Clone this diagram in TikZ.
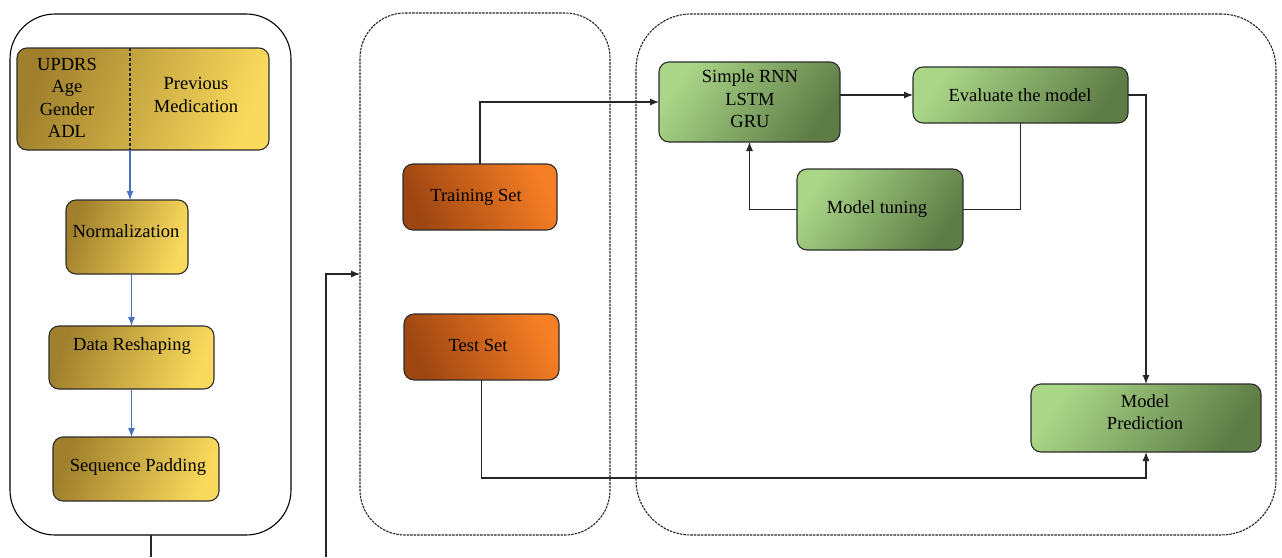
\documentclass[tikz,border=0pt]{standalone}
\usepackage{fontspec}
\setmainfont{Liberation Serif}
\newfontfamily\tnr{Liberation Serif}
\usetikzlibrary{arrows.meta}
\definecolor{goldD}{RGB}{160,128,44}
\definecolor{goldL}{RGB}{250,218,92}
\definecolor{orD}{RGB}{158,70,18}
\definecolor{orL}{RGB}{246,126,36}
\definecolor{grL}{RGB}{170,214,136}
\definecolor{grD}{RGB}{94,124,70}
\definecolor{edge}{RGB}{45,45,45}
\definecolor{blueln}{RGB}{70,114,196}
\tikzset{
  x=1pt, y=-1pt,
  every node/.style={font=\tnr\fontsize{18.5}{22.5}\selectfont, inner sep=0pt, outer sep=0pt},
  colbox/.style={draw=edge, line width=1.1pt, rounded corners=10pt, anchor=north west},
  goldbox/.style={colbox, top color=goldD, bottom color=goldL, shading angle=70},
  orbox/.style={colbox, top color=orD, bottom color=orL, shading angle=115},
  grbox/.style={colbox, top color=grL, bottom color=grD, shading angle=55},
  group/.style={draw=black, line width=1.1pt, anchor=north west, rounded corners=45pt},
  dgroup/.style={draw=black!85, line width=1.1pt, dash pattern=on 2.5pt off 1pt, anchor=north west, rounded corners=45pt},
  txt/.style={align=center},
  conn/.style={draw=black!85, line width=1.1pt},
  arr/.style={conn, -{Latex[length=9pt,width=7pt]}},
  barr/.style={draw=blueln, line width=1.1pt, -{Latex[length=9pt,width=7pt]}},
}
\begin{document}
\begin{tikzpicture}
\useasboundingbox (0,0) rectangle (1282,557);
% groups
\node[group, minimum width=281, minimum height=521] (left) at (10,14) {};
\node[dgroup, minimum width=250, minimum height=522] (mid) at (360,13) {};
\node[dgroup, minimum width=640, minimum height=521, rounded corners=55pt] (right) at (636,14) {};
% left column
\node[goldbox, minimum width=252, minimum height=102] (inp) at (17,48) {};
\coordinate (divt) at (130,48);
\coordinate (divb) at (130,150);
\draw[draw=black!85, line width=1.1pt, dash pattern=on 3pt off 2pt] (divt) -- (divb);
\node[txt] (inpl) at (67,98) {UPDRS\\Age\\Gender\\ADL};
\node[txt] (inpr) at (196,95) {Previous\\Medication};
\node[goldbox, minimum width=122, minimum height=74] (norm) at (66,200) {};
\node[txt] (normt) at (126,231) {Normalization};
\node[goldbox, minimum width=165, minimum height=63] (resh) at (49,326) {};
\node[txt] (resht) at (132,346) {Data Reshaping};
\node[goldbox, minimum width=166, minimum height=64] (pad) at (53,437) {};
\node[txt] (padt) at (138,467) {Sequence Padding};
\draw[barr] (divb) -- (divb |- norm.north);
\draw[barr] (resh.north |- norm.south) -- (resh.north);
\draw[barr] (resh.south) -- (resh.south |- pad.north);
% links out of left group
\coordinate (lend) at (151,557);
\draw[conn] (left.south -| lend) -- (lend);
\coordinate (mstart) at (326,557);
\draw[arr] (mstart) |- (mid.west);
% middle
\node[orbox, minimum width=154, minimum height=66] (train) at (403,164) {};
\node[txt] (traint) at (476,197) {Training Set};
\node[orbox, minimum width=155, minimum height=66] (test) at (404,314) {};
\node[txt] (testt) at (478,345) {Test Set};
% right
\node[grbox, minimum width=181, minimum height=80] (rnn) at (659,62) {};
\node[txt] (rnnt) at (750,99) {Simple RNN\\LSTM\\GRU};
\node[grbox, minimum width=215, minimum height=56] (eval) at (913,67) {};
\node[txt] (evalt) at (1020,95) {Evaluate the model};
\node[grbox, minimum width=166, minimum height=81] (tune) at (797,169) {};
\node[txt] (tunet) at (877,209) {Model tuning};
\node[grbox, minimum width=230, minimum height=68] (pred) at (1031,384) {};
\node[txt] (predt) at (1145,412) {Model\\Prediction};
% connectors
\draw[arr] (train.north) |- (rnn.west);
\coordinate (tbot) at (481,478);
\draw[arr] (test.south) -- (test.south |- tbot) -| (pred.south);
\draw[arr] (rnn.east |- eval.west) -- (eval.west);
\draw[conn] (eval.south) |- (tune.east);
\draw[arr] (tune.west) -| (rnn.south);
\draw[arr] (eval.east) -| (pred.north);
\end{tikzpicture}
\end{document}
